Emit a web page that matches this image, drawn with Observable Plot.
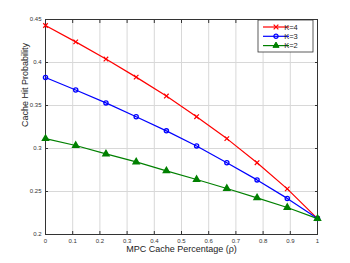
<!DOCTYPE html>
<html><head><meta charset="utf-8">
<script src="https://cdn.jsdelivr.net/npm/d3@7"></script>
<script src="https://cdn.jsdelivr.net/npm/@observablehq/plot@0.6"></script>
<style>
body{margin:0;background:#fff;}
#c{position:relative;width:350px;height:263px;font-family:"Liberation Sans",Arial,sans-serif;}
</style></head><body><div id="c"></div>
<script>
const xs = [0, 1/9, 2/9, 3/9, 4/9, 5/9, 6/9, 7/9, 8/9, 1];
const k4 = [0.443, 0.424, 0.404, 0.383, 0.361, 0.337, 0.3115, 0.2835, 0.253, 0.2185];
const k3 = [0.3825, 0.368, 0.353, 0.337, 0.3205, 0.303, 0.2835, 0.2635, 0.242, 0.2185];
const k2 = [0.3115, 0.3035, 0.2937, 0.2844, 0.274, 0.264, 0.2535, 0.2426, 0.2314, 0.2185];
const series = ["K=4", "K=3", "K=2"];
const colors = ["#ff0000", "#0000ff", "#008000"];
const xTicks = [0, 0.1, 0.2, 0.3, 0.4, 0.5, 0.6, 0.7, 0.8, 0.9, 1];
const yTicks = [0.2, 0.25, 0.3, 0.35, 0.4, 0.45];
const xLabel = "MPC Cache Percentage (\u03C1)";
const yLabel = "Cache Hit Probability";

const vals = [k4, k3, k2];
const data = [];
series.forEach((s, i) => xs.forEach((x, j) => data.push({x, y: vals[i][j], s})));
const by = s => data.filter(d => d.s === s);
const fmt = d => String(+d.toFixed(2));

const plot = Plot.plot({
  width: 350, height: 263,
  marginLeft: 45, marginRight: 33, marginTop: 19, marginBottom: 29,
  style: {fontFamily: "Liberation Sans, Arial, sans-serif", fontSize: "6px", background: "#fff", color: "#333"},
  x: {domain: [0, 1]},
  y: {domain: [0.2, 0.45]},
  color: {domain: series, range: colors},
  marks: [
    Plot.gridX(xTicks, {stroke: "#d8d8d8", strokeOpacity: 1}),
    Plot.gridY(yTicks, {stroke: "#d8d8d8", strokeOpacity: 1}),
    Plot.frame({stroke: "#333"}),
    Plot.axisX(xTicks, {anchor: "bottom", tickSize: -3, tickPadding: 7, tickFormat: fmt, label: null, stroke: "#333"}),
    Plot.axisX(xTicks, {anchor: "top", tickSize: -3, tickFormat: () => "", label: null, stroke: "#333"}),
    Plot.axisY(yTicks, {anchor: "left", tickSize: -3, tickPadding: 7, tickFormat: fmt, label: null, stroke: "#333"}),
    Plot.axisY(yTicks, {anchor: "right", tickSize: -3, tickFormat: () => "", label: null, stroke: "#333"}),
    Plot.line(by("K=4"), {x: "x", y: "y", stroke: colors[0], strokeWidth: 1.2}),
    Plot.line(by("K=3"), {x: "x", y: "y", stroke: colors[1], strokeWidth: 1.2}),
    Plot.line(by("K=2"), {x: "x", y: "y", stroke: colors[2], strokeWidth: 1.2}),
    Plot.dot(by("K=4"), {x: "x", y: "y", symbol: "times", stroke: colors[0], r: 2.2, strokeWidth: 1.2}),
    Plot.dot(by("K=3"), {x: "x", y: "y", symbol: "circle", stroke: colors[1], r: 2.1, strokeWidth: 1.3}),
    Plot.dot(by("K=2"), {x: "x", y: "y", symbol: "triangle", fill: colors[2], stroke: colors[2], r: 2.2}),
    Plot.text([xLabel], {frameAnchor: "bottom", dy: 17, fontSize: 9, fill: "#222"}),
    Plot.text([yLabel], {frameAnchor: "left", dx: -20, rotate: -90, fontSize: 9, fill: "#222"})
  ]
});
document.getElementById("c").appendChild(plot);

// legend
const svg = d3.select(plot);
const lg = svg.append("g").attr("transform", "translate(258,20)");
lg.append("rect").attr("width", 55).attr("height", 32).attr("fill", "#fff").attr("stroke", "#333").attr("stroke-width", 0.8);
series.forEach((s, i) => {
  const y = 7 + i * 9.3;
  const g = lg.append("g").attr("transform", `translate(0,${y})`);
  g.append("line").attr("x1", 5).attr("x2", 31).attr("y1", 0).attr("y2", 0).attr("stroke", colors[i]).attr("stroke-width", 1.2);
  const sym = [d3.symbolTimes, d3.symbolCircle, d3.symbolTriangle][i];
  const p = g.append("path").attr("transform", "translate(18,0)").attr("d", d3.symbol(sym, i === 1 ? 14 : 16)());
  if (i === 0) p.attr("fill", "none").attr("stroke", colors[i]).attr("stroke-width", 1.2);
  else if (i === 1) p.attr("fill", "none").attr("stroke", colors[i]).attr("stroke-width", 1.3);
  else p.attr("fill", colors[i]).attr("stroke", colors[i]);
  g.append("text").attr("x", 33).attr("y", 0).attr("dy", "0.35em").attr("font-size", 7.5).attr("fill", "#222").text(s);
});
</script></body></html>
